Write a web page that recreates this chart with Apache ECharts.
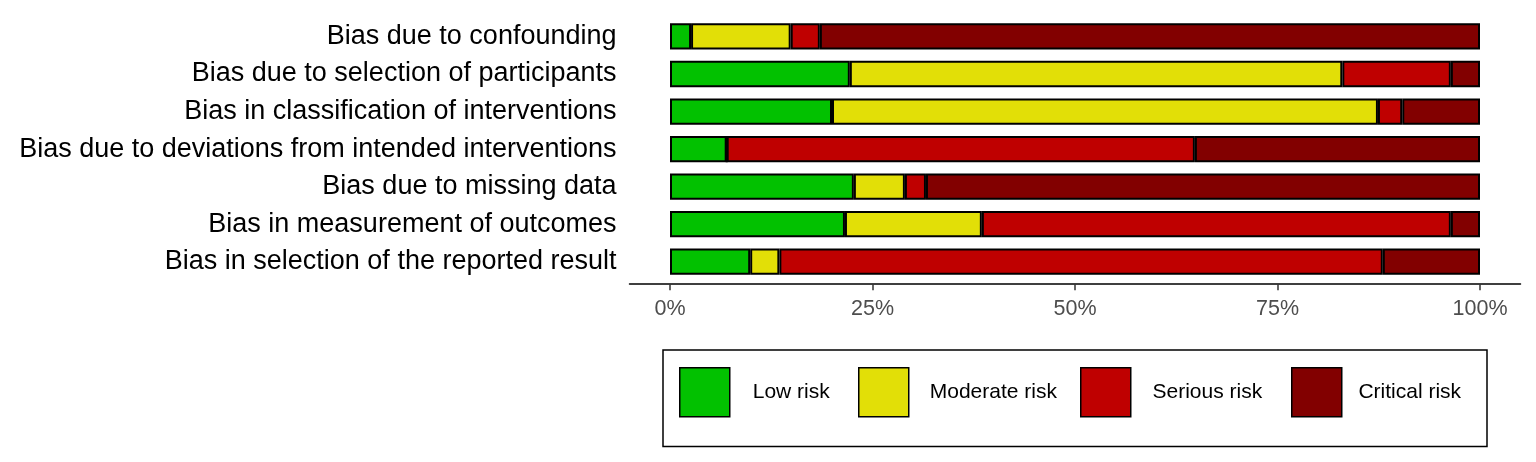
<!DOCTYPE html>
<html>
<head>
<meta charset="utf-8">
<script src="https://cdn.jsdelivr.net/npm/echarts@6/dist/echarts.min.js"></script>
<style>
html,body{margin:0;padding:0;background:#fff;}
#chart{width:1536px;height:462px;}
</style>
</head>
<body>
<div id="chart"></div>
<script>
const categories = [
  "Bias due to confounding",
  "Bias due to selection of participants",
  "Bias in classification of interventions",
  "Bias due to deviations from intended interventions",
  "Bias due to missing data",
  "Bias in measurement of outcomes",
  "Bias in selection of the reported result"
];
const lowRisk      = [2.6, 22.2, 20.0, 7.0, 22.7, 21.6, 9.9];
const moderateRisk = [12.3, 60.8, 67.4, 0, 6.3, 16.9, 3.6];
const seriousRisk  = [3.6, 13.4, 3.0, 57.8, 2.6, 57.9, 74.5];
const criticalRisk = [81.5, 3.6, 9.6, 35.2, 68.4, 3.6, 12.0];
const tickValues = [0, 25, 50, 75, 100];
const seriesNames = ["Low risk", "Moderate risk", "Serious risk", "Critical risk"];
const colors = ["#02C100", "#E2DF07", "#BF0000", "#820000"];
const seriesData = [lowRisk, moderateRisk, seriousRisk, criticalRisk];

const chart = echarts.init(document.getElementById('chart'));
const FONT = "Liberation Sans";
const legendLefts = [679, 858, 1080, 1291];
const legendTextGaps = [18, 16, 16.7, 11.7];

const option = {
  animation: false,
  backgroundColor: '#fff',
  grid: { left: 629.5, right: 15.5, top: 17.7, bottom: 181.5, containLabel: false },
  xAxis: {
    type: 'value', min: -5, max: 105, offset: 3.7,
    splitLine: { show: false },
    axisLine: { show: true, lineStyle: { color: '#000', width: 1.5 } },
    axisTick: { show: true, length: 6, customValues: tickValues, lineStyle: { color: '#333', width: 1.5 } },
    axisLabel: { customValues: tickValues, formatter: v => v + '%', color: '#4D4D4D', fontSize: 21.5, fontFamily: FONT, margin: 14 }
  },
  yAxis: {
    type: 'category', data: categories, inverse: true,
    axisLine: { show: false }, axisTick: { show: false },
    axisLabel: { color: '#000', fontSize: 27, fontFamily: FONT, margin: 13, padding: [5, 0, 0, 0] }
  },
  legend: seriesNames.map((n, i) => ({
    data: [n], left: legendLefts[i], top: 367, orient: 'horizontal',
    itemWidth: 50, itemHeight: 49, icon: 'rect', padding: 0,
    itemStyle: { borderColor: '#000', borderWidth: 1.5 },
    textStyle: { fontSize: 21, fontFamily: FONT, color: '#000', padding: [6, 0, 0, legendTextGaps[i]] },
    selectedMode: false
  })),
  graphic: [{
    type: 'rect',
    shape: { x: 663, y: 350, width: 824, height: 96.5 },
    style: { fill: 'none', stroke: '#000', lineWidth: 1.5 }
  }],
  series: seriesNames.map((n, i) => ({
    name: n, type: 'bar', stack: 'total', data: seriesData[i],
    barWidth: '70%',
    itemStyle: { color: colors[i], borderColor: '#000', borderWidth: 2 }
  }))
};
chart.setOption(option);
</script>
</body>
</html>
